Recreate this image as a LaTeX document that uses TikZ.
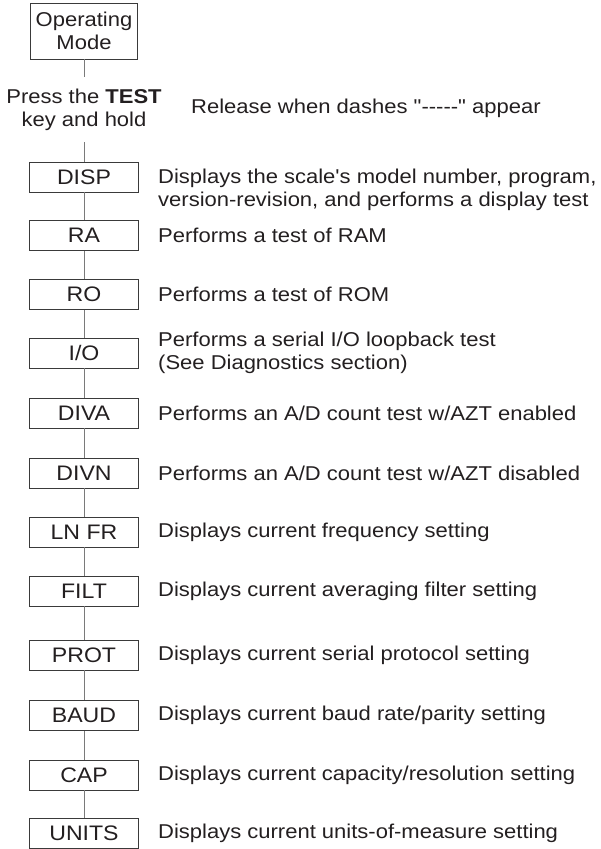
\documentclass[tikz,border=0pt]{standalone}
\usepackage{fontspec}
\setmainfont{Liberation Sans}[Ligatures=TeXOff, FakeStretch=1.1]
\definecolor{txt}{HTML}{231F20}
\definecolor{boxc}{HTML}{3A3A3A}
\definecolor{linec}{HTML}{7A7A7A}
\begin{document}
\begin{tikzpicture}[x=1pt,y=-1pt,
  every node/.style={font=\fontsize{20}{23}\selectfont, text=txt},
  box/.style={draw=boxc, line width=0.9pt, minimum width=109pt, minimum height=30pt, inner sep=0pt, font=\fontsize{21}{23}\selectfont},
  desc/.style={anchor=west, inner sep=0pt, align=left},
  conn/.style={draw=linec, line width=0.9pt}]
\useasboundingbox (0,0) rectangle (600,849);
\node[box, minimum width=107pt, minimum height=56pt, align=center, font=\fontsize{20}{23}\selectfont] (op) at (84,31) {Operating\\Mode};
\node[inner sep=0pt, align=center, minimum height=65pt] (press) at (84,109.5) {Press the \textbf{TEST}\\key and hold};
\node[anchor=base west, inner sep=0pt] (rel) at (191,113) {Release when dashes "-----" appear};

\node[box] (disp) at (84,177) {DISP};
\node[box] (ra) at (84,235.5) {RA};
\node[box] (ro) at (84,294.5) {RO};
\node[box] (io) at (84,353) {I/O};
\node[box] (diva) at (84,413) {DIVA};
\node[box] (divn) at (84,473) {DIVN};
\node[box] (lnfr) at (84,532) {LN FR};
\node[box] (filt) at (84,591) {FILT};
\node[box] (prot) at (84,655) {PROT};
\node[box] (baud) at (84,715.5) {BAUD};
\node[box] (cap) at (84,775) {CAP};
\node[box] (units) at (84,833.5) {UNITS};

\node[desc, anchor=north west] (ddisp) at (158,168.5) {Displays the scale's model number, program,\\version-revision, and performs a display test};
\node[desc] (dra) at (158,235.5) {Performs a test of RAM};
\node[desc] (dro) at (158,294.5) {Performs a test of ROM};
\node[desc] (dio) at (158,353) {Performs a serial I/O loopback test\\(See Diagnostics section)};
\node[desc] (ddiva) at (158,413) {Performs an A/D count test w/AZT enabled};
\node[desc] (ddivn) at (158,473) {Performs an A/D count test w/AZT disabled};
\node[desc] (dlnfr) at (158,532) {Displays current frequency setting};
\node[desc] (dfilt) at (158,591) {Displays current averaging filter setting};
\node[desc] (dprot) at (158,655) {Displays current serial protocol setting};
\node[desc] (dbaud) at (158,715.5) {Displays current baud rate/parity setting};
\node[desc] (dcap) at (158,775) {Displays current capacity/resolution setting};
\node[desc] (dunits) at (158,833.5) {Displays current units-of-measure setting};

\draw[conn] (op) -- (press);
\draw[conn] (press) -- (disp);
\draw[conn] (disp) -- (ra);
\draw[conn] (ra) -- (ro);
\draw[conn] (ro) -- (io);
\draw[conn] (io) -- (diva);
\draw[conn] (diva) -- (divn);
\draw[conn] (divn) -- (lnfr);
\draw[conn] (lnfr) -- (filt);
\draw[conn] (filt) -- (prot);
\draw[conn] (prot) -- (baud);
\draw[conn] (baud) -- (cap);
\draw[conn] (cap) -- (units);
\end{tikzpicture}
\end{document}
